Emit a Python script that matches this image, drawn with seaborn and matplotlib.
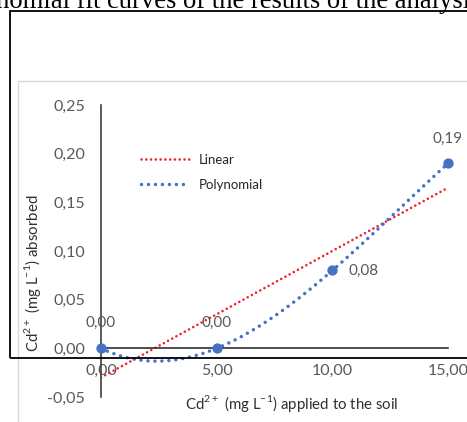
import numpy as np
import pandas as pd
import matplotlib
matplotlib.use("Agg")
import matplotlib.pyplot as plt
import seaborn as sns
from matplotlib.lines import Line2D
from matplotlib.patches import Rectangle
from matplotlib.ticker import FuncFormatter

# values
cd_applied = [0, 5, 10, 15]
cd_absorbed = [0.00, 0.00, 0.08, 0.19]
point_labels = ["0,00", "0,00", "0,08", "0,19"]
x_ticks = [0, 5, 10, 15]
y_ticks = [-0.05, 0.00, 0.05, 0.10, 0.15, 0.20, 0.25]

df = pd.DataFrame({"applied": cd_applied, "absorbed": cd_absorbed})

sns.set_style("white")
plt.rcParams["font.family"] = ["Lato", "DejaVu Sans"]
plt.rcParams["mathtext.fontset"] = "custom"
plt.rcParams["mathtext.rm"] = "Lato"

W, H = 467, 422
fig = plt.figure(figsize=(W / 100, H / 100), dpi=100)
fig.patch.set_facecolor("white")
ax = fig.add_axes([101 / W, 1 - 397 / H, 347 / W, 292 / H])
ax.patch.set_alpha(0)

red = "#F0202E"
blue = "#4472C4"
gray = "#595959"

# trendlines fitted by seaborn (linear and 3rd order polynomial)
sns.regplot(data=df, x="applied", y="absorbed", order=1, ci=None, scatter=False, ax=ax,
            line_kws=dict(color=red, lw=1.9, dashes=(0.01, 1.8), dash_capstyle="round"))
sns.regplot(data=df, x="applied", y="absorbed", order=3, ci=None, scatter=False, ax=ax,
            line_kws=dict(color=blue, lw=2.5, dashes=(0.01, 2.0), dash_capstyle="round"))
sns.scatterplot(data=df, x="applied", y="absorbed", ax=ax, color=blue, s=55,
                linewidth=0, zorder=5, clip_on=False)

# data labels
offsets = [(0, 18), (0, 18), (12, 0), (0, 18)]
aligns = ["center", "center", "left", "center"]
for x, y, lab, off, ha in zip(cd_applied, cd_absorbed, point_labels, offsets, aligns):
    ax.annotate(lab, (x, y), xytext=off, textcoords="offset points",
                ha=ha, va="center", fontsize=11, color=gray, annotation_clip=False)

ax.set_xlim(0, 15)
ax.set_ylim(-0.05, 0.25)
ax.set_xticks(x_ticks)
ax.set_yticks(y_ticks)
fmt = FuncFormatter(lambda v, p: f"{v:.2f}".replace(".", ","))
ax.xaxis.set_major_formatter(fmt)
ax.yaxis.set_major_formatter(fmt)
ax.tick_params(axis="both", length=0, labelsize=11.5, labelcolor=gray)
ax.tick_params(axis="y", pad=11.5)
ax.tick_params(axis="x", pad=11.5)
ax.set_xlabel("")
ax.set_ylabel("")

ax.spines["top"].set_visible(False)
ax.spines["right"].set_visible(False)
ax.spines["left"].set_color("#404040")
ax.spines["left"].set_linewidth(1.2)
ax.spines["bottom"].set_position(("data", 0))
ax.spines["bottom"].set_color("#303030")
ax.spines["bottom"].set_linewidth(1.2)

# legend
handles = [
    Line2D([], [], color=red, lw=1.9, dashes=(0.01, 1.8), dash_capstyle="round"),
    Line2D([], [], color=blue, lw=2.5, dashes=(0.01, 2.0), dash_capstyle="round"),
]
ax.legend(handles, ["Linear", "Polynomial"], loc="center left",
          bbox_to_anchor=(141 / W, 1 - 172.5 / H), bbox_transform=fig.transFigure,
          frameon=False, fontsize=9.5, handlelength=3.6, handletextpad=0.75,
          labelspacing=1.0, borderpad=0, borderaxespad=0)

# axis titles
fig.text(33 / W, 1 - 273 / H, r"Cd$^{\mathregular{2+}}$ (mg L$^{\mathregular{-1}}$) absorbed",
         rotation=90, ha="center", va="center", fontsize=10.8, color="#303030")
fig.text(292 / W, 1 - 403 / H, r"Cd$^{\mathregular{2+}}$ (mg L$^{\mathregular{-1}}$) applied to the soil",
         ha="center", va="center", fontsize=10.8, color="#303030")

# surrounding page: caption fragment and frames
fig.text(-4 / W, 1 - 8 / H, "nomial fit curves of the results of the analysis",
         ha="left", va="baseline", fontsize=19.2, family="Liberation Serif", color="black")
fig.add_artist(Rectangle((18 / W, -0.05), 1.0, 1 - 81 / H + 0.05, transform=fig.transFigure,
                         fill=False, edgecolor="#D9D9D9", lw=1.0))
fig.add_artist(Rectangle((10 / W, 1 - 358 / H), 1.0, (358 - 11) / H, transform=fig.transFigure,
                         fill=False, edgecolor="black", lw=1.3))

fig.savefig("out.png", dpi=100)
